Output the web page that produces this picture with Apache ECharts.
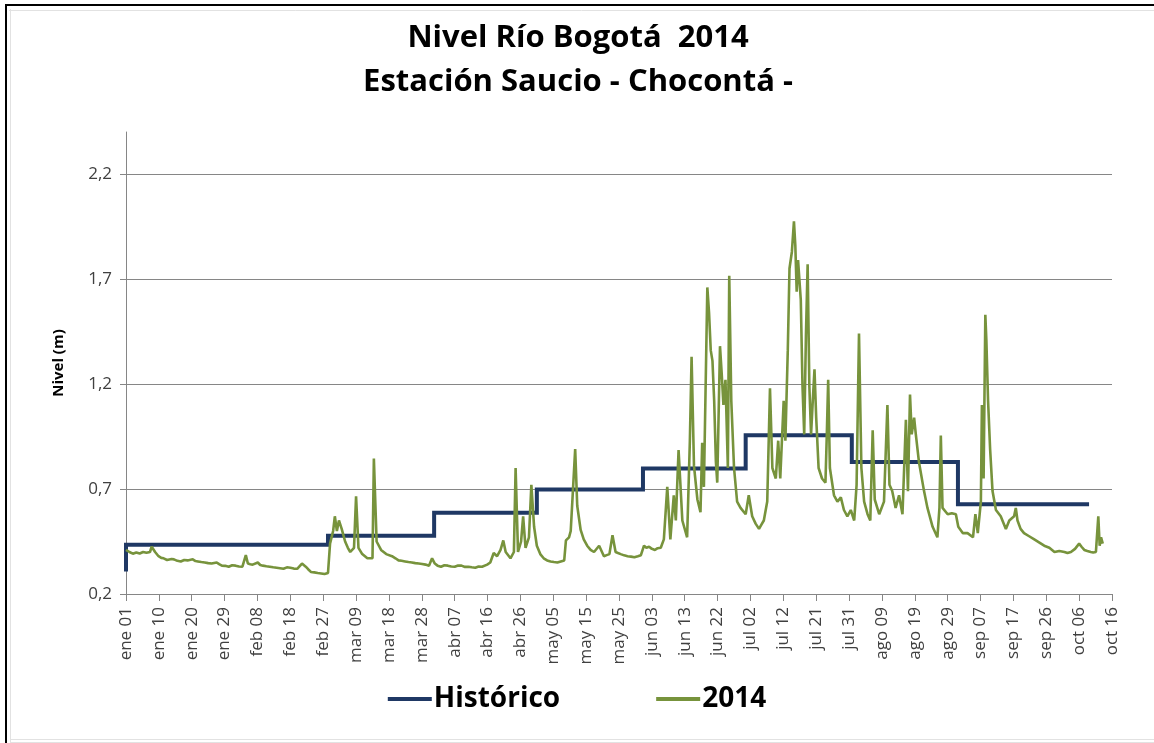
<!DOCTYPE html>
<html>
<head>
<meta charset="utf-8">
<script src="https://cdn.jsdelivr.net/npm/echarts@6/dist/echarts.min.js"></script>
<style>html,body{margin:0;padding:0;background:#fff}#c{width:1154px;height:743px}</style>
</head>
<body>
<div id="c"></div>
<script>
// x values are days counted from 1 January 2014
const xTickLabels = ['ene 01','ene 10','ene 20','ene 29','feb 08','feb 18','feb 27','mar 09','mar 18','mar 28',
  'abr 07','abr 16','abr 26','may 05','may 15','may 25','jun 03','jun 13','jun 22','jul 02','jul 12','jul 21',
  'jul 31','ago 09','ago 19','ago 29','sep 07','sep 17','sep 26','oct 06','oct 16'];
const xAxisEndDay = 288;
const yTicks = [0.2, 0.7, 1.2, 1.7, 2.2];

// Histórico: monthly levels (start day of each month, level)
const histMonthStart = [0, 31, 59, 90, 120, 151, 181, 212, 243];
const histValues = [0.434, 0.434, 0.477, 0.587, 0.698, 0.798, 0.956, 0.829, 0.627];
const histFirstValue = 0.307;
const histEndDay = 281.3;

// 2014 levels: [day, level]
const level2014 = [
[0,0.41],[1,0.40],[2,0.392],[3,0.398],[4,0.393],[5,0.40],[6,0.396],[7,0.40],[7.5,0.425],[8.5,0.40],[9.5,0.38],
[10.3,0.372],[11,0.37],[12,0.362],[12.5,0.36],[13.3,0.367],[14,0.365],[15,0.358],[16,0.355],[17,0.362],[18,0.36],
[19.5,0.365],[20.3,0.357],[21,0.355],[22,0.352],[23,0.35],[24,0.347],[25,0.345],[26.5,0.35],[27.2,0.342],[28,0.335],
[29,0.334],[30,0.33],[31,0.337],[32,0.335],[33,0.331],[34,0.33],[35,0.385],[35.6,0.345],[36.3,0.342],[37,0.34],
[38.5,0.35],[39.2,0.338],[40,0.335],[41,0.332],[42,0.33],[43,0.327],[44,0.325],[45,0.323],[46,0.32],[47,0.327],
[48,0.325],[49,0.321],[50,0.32],[51.4,0.345],[52.5,0.33],[53.2,0.318],[54,0.305],[55,0.303],[56,0.30],[57,0.298],
[58,0.295],[59,0.30],[59.6,0.44],[60.5,0.50],[61,0.57],[61.6,0.50],[62.2,0.55],[63,0.51],[64,0.45],[64.8,0.42],
[65.5,0.40],[66.6,0.42],[67.2,0.665],[67.9,0.42],[69,0.39],[70.5,0.37],[72,0.37],[72.4,0.845],[73.2,0.45],
[74.5,0.41],[76,0.39],[77.7,0.38],[78.7,0.37],[79.6,0.36],[80.5,0.358],[81.5,0.355],[82.5,0.352],[83.5,0.35],
[84.5,0.347],[85.5,0.345],[86.5,0.343],[87.5,0.34],[88.5,0.335],[89.4,0.37],[90.2,0.345],[91,0.335],[92,0.33],
[93,0.337],[94,0.335],[95,0.331],[96,0.33],[97,0.336],[98,0.335],[99,0.329],[100,0.33],[101,0.327],[102,0.325],
[103,0.331],[104,0.33],[105.5,0.34],[106.4,0.35],[107.4,0.395],[108.4,0.38],[109.4,0.41],[110.2,0.455],[110.9,0.40],
[112.3,0.37],[113.3,0.40],[113.8,0.80],[114.5,0.40],[115.4,0.45],[116.0,0.57],[116.7,0.42],[117.7,0.47],[118.4,0.72],
[119.2,0.52],[120,0.43],[121,0.39],[122,0.37],[123,0.36],[124,0.355],[125,0.352],[126,0.35],[127,0.355],[128,0.36],
[128.5,0.455],[129.4,0.47],[129.9,0.50],[130.7,0.74],[131.2,0.89],[131.8,0.62],[132.8,0.505],[133.7,0.46],[134.7,0.43],
[135.7,0.41],[136.7,0.40],[138.2,0.43],[139.6,0.38],[140.4,0.385],[141.2,0.39],[142.1,0.48],[143,0.40],[143.7,0.395],
[144.5,0.39],[145.5,0.384],[146.5,0.38],[147.5,0.378],[148.5,0.375],[149.5,0.38],[150.4,0.385],[151.3,0.43],
[152,0.42],[152.8,0.425],[153.6,0.415],[154.5,0.41],[155.3,0.418],[156.2,0.42],[157.1,0.46],[158.1,0.71],[159,0.46],
[160,0.67],[160.6,0.55],[161.4,0.885],[162.5,0.55],[163.9,0.47],[164.7,0.93],[165.2,1.33],[165.9,0.81],[166.9,0.65],
[167.8,0.59],[168.3,0.92],[168.8,0.71],[169.8,1.66],[170.3,1.54],[170.8,1.36],[171.3,1.31],[171.8,1.12],[172.3,0.83],
[172.7,0.73],[173.5,1.38],[174,1.25],[174.5,1.10],[175.1,1.22],[175.8,0.80],[176.2,1.715],[176.8,1.12],[177.6,0.80],
[178.5,0.64],[179.5,0.61],[181,0.58],[181.9,0.67],[182.9,0.57],[183.9,0.535],[184.9,0.51],[185.6,0.53],[186.3,0.55],
[187.3,0.64],[188.1,1.18],[188.8,0.80],[189.8,0.75],[190.5,0.93],[191.1,0.75],[192.1,1.12],[192.6,0.93],[193.3,1.36],
[193.8,1.75],[194.5,1.83],[195.1,1.975],[195.5,1.86],[195.9,1.64],[196.3,1.79],[197.1,1.60],[197.6,1.19],[198.1,0.96],
[198.6,1.43],[199.1,1.77],[199.6,1.19],[200.1,0.96],[200.6,1.12],[201.1,1.27],[201.6,1.04],[202.3,0.80],[203.3,0.75],
[204.3,0.73],[204.7,0.96],[205.1,1.22],[205.6,0.80],[206.8,0.67],[207.8,0.64],[208.8,0.66],[209.7,0.60],[210.7,0.57],
[211.7,0.60],[212.7,0.55],[213.4,0.72],[214.1,1.44],[214.8,0.80],[215.6,0.64],[216.6,0.58],[217.4,0.55],[218.1,0.98],
[218.7,0.65],[220,0.58],[221.4,0.64],[222.4,1.10],[223,0.72],[223.8,0.69],[224.8,0.61],[225.8,0.67],[226.8,0.58],
[227.8,1.03],[228.4,0.69],[229,1.15],[229.5,0.96],[230.2,1.04],[230.7,0.96],[231.6,0.83],[233.1,0.69],[234.1,0.61],
[235.6,0.52],[237,0.47],[237.6,0.61],[238,0.955],[238.5,0.61],[240,0.58],[241.2,0.585],[242.4,0.58],[243.1,0.52],
[244.4,0.49],[245.8,0.49],[247.4,0.47],[248.1,0.58],[248.8,0.49],[249.7,0.64],[250,1.10],[250.5,0.75],[251,1.53],
[251.3,1.41],[251.8,1.12],[252.4,0.89],[253.1,0.69],[254.1,0.60],[255.5,0.57],[257,0.51],[258,0.55],[259.4,0.57],
[259.9,0.61],[260.4,0.55],[261.3,0.51],[262.3,0.49],[263.8,0.475],[265.3,0.46],[266.8,0.445],[268.2,0.43],[269.7,0.42],
[271.2,0.40],[272.6,0.405],[274.1,0.40],[275,0.395],[276,0.40],[277.2,0.415],[278.4,0.44],[279.1,0.425],[279.9,0.41],
[280.8,0.405],[281.8,0.40],[282.5,0.398],[283.3,0.40],[284,0.57],[284.4,0.43],[284.8,0.47],[285.3,0.44]
];

const histData = [[0, histFirstValue]];
for (let i = 0; i < histMonthStart.length; i++) {
  const s = histMonthStart[i];
  const e = i + 1 < histMonthStart.length ? histMonthStart[i + 1] : histEndDay;
  histData.push([s, histValues[i]], [e, histValues[i]]);
}
const xTickPos = xTickLabels.map((_, i) => i * xAxisEndDay / (xTickLabels.length - 1));

const chart = echarts.init(document.getElementById('c'));
const axisGray = '#868686';
const font = '"Open Sans", Lato, sans-serif';
chart.setOption({
  backgroundColor: '#fff',
  animation: false,
  title: [
    { text: 'Nivel Río Bogotá  2014', left: 573, textAlign: 'center', top: 18,
      textStyle: { fontFamily: font, fontWeight: 'bold', fontSize: 31, color: '#000' } },
    { text: 'Estación Saucio - Chocontá -', left: 573, textAlign: 'center', top: 62,
      textStyle: { fontFamily: font, fontWeight: 'bold', fontSize: 31, color: '#000' } }
  ],
  legend: {
    top: 680, left: 'center', itemGap: 96, itemWidth: 44, itemHeight: 4, icon: 'rect',
    textStyle: { fontFamily: font, fontWeight: 'bold', fontSize: 28, color: '#000', padding: [0,0,0,-3] },
    data: ['Histórico', '2014']
  },
  grid: { left: 126, right: 42, top: 132, bottom: 149 },
  xAxis: {
    type: 'value', min: 0, max: xAxisEndDay,
    axisLine: { lineStyle: { color: axisGray, width: 1 } },
    axisTick: { show: true, length: 7, lineStyle: { color: axisGray }, customValues: xTickPos },
    axisLabel: { rotate: 90, margin: 13, fontFamily: font, fontSize: 17, color: '#404040',
      customValues: xTickPos,
      formatter: v => xTickLabels[Math.round(v * (xTickLabels.length - 1) / xAxisEndDay)] },
    splitLine: { show: false }
  },
  yAxis: {
    type: 'value', min: 0.2, max: 2.4,
    name: 'Nivel (m)', nameLocation: 'middle', nameGap: 60, nameRotate: 90,
    nameTextStyle: { fontFamily: font, fontWeight: 'bold', fontSize: 15, color: '#000' },
    axisLine: { show: true, lineStyle: { color: axisGray, width: 1 } },
    axisTick: { show: true, length: 6, lineStyle: { color: axisGray }, customValues: yTicks },
    axisLabel: { margin: 14, fontFamily: font, fontSize: 17, color: '#404040',
      customValues: yTicks, formatter: v => v.toFixed(1).replace('.', ',') },
    splitLine: { show: true, lineStyle: { color: axisGray, width: 1 } }
  },
  series: [
    { name: 'Histórico', type: 'line', data: histData, symbol: 'none', showSymbol: false,
      lineStyle: { color: '#1F3864', width: 4, join: 'miter' }, itemStyle: { color: '#1F3864' } },
    { name: '2014', type: 'line', data: level2014, symbol: 'none', showSymbol: false,
      lineStyle: { color: '#77933C', width: 2.6 }, itemStyle: { color: '#77933C' } }
  ],
  graphic: [
    { type: 'line', shape: { x1: 5, y1: 5, x2: 1154, y2: 5 }, style: { stroke: '#000', lineWidth: 2 } },
    { type: 'line', shape: { x1: 6, y1: 5, x2: 6, y2: 743 }, style: { stroke: '#000', lineWidth: 2 } },
    { type: 'line', shape: { x1: 9, y1: 10.5, x2: 1154, y2: 10.5 }, style: { stroke: '#e2e2e2', lineWidth: 1 } },
    { type: 'line', shape: { x1: 10.5, y1: 9, x2: 10.5, y2: 743 }, style: { stroke: '#e2e2e2', lineWidth: 1 } },
    { type: 'line', shape: { x1: 10, y1: 739.5, x2: 1154, y2: 739.5 }, style: { stroke: '#e2e2e2', lineWidth: 1 } },
    { type: 'line', shape: { x1: 10, y1: 742.5, x2: 1154, y2: 742.5 }, style: { stroke: '#e2e2e2', lineWidth: 1 } }
  ]
});
</script>
</body>
</html>
